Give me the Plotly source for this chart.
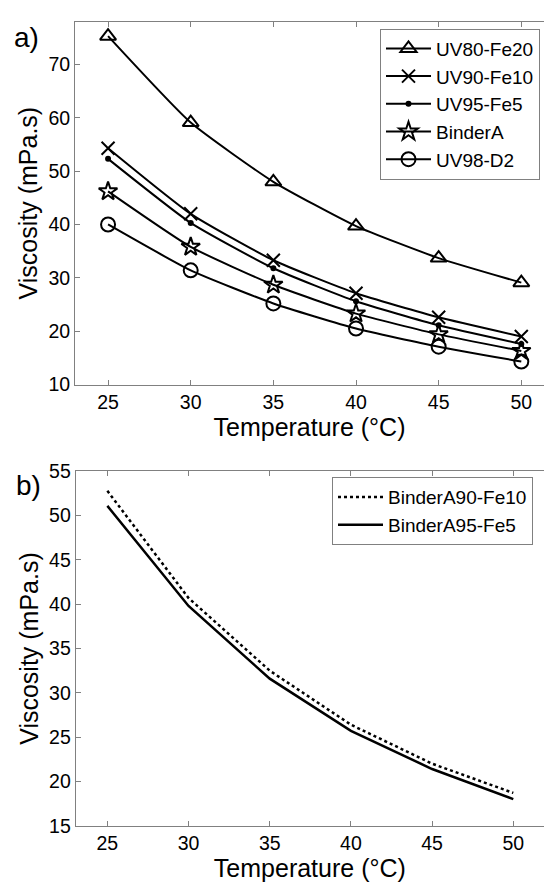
import plotly.graph_objects as go

# ---------------- data ----------------
temps = [25, 30, 35, 40, 45, 50]

uv80_fe20 = [75.3, 59.1, 48.0, 39.7, 33.7, 29.1]
uv90_fe10 = [54.3, 42.0, 33.3, 27.1, 22.6, 19.0]
uv95_fe5 = [52.3, 40.3, 31.8, 25.6, 21.1, 17.6]
binder_a = [46.2, 35.8, 28.7, 23.3, 19.4, 16.3]
uv98_d2 = [40.0, 31.4, 25.2, 20.5, 17.1, 14.3]

binderA90_fe10 = [52.8, 40.7, 32.5, 26.4, 22.0, 18.7]
binderA95_fe5 = [51.1, 39.8, 31.6, 25.7, 21.4, 18.0]

series_a_names = ["UV80-Fe20", "UV90-Fe10", "UV95-Fe5", "BinderA", "UV98-D2"]
series_b_names = ["BinderA90-Fe10", "BinderA95-Fe5"]

yticks_a = [10, 20, 30, 40, 50, 60, 70]
yticks_b = [15, 20, 25, 30, 35, 40, 45, 50, 55]
xticks = [25, 30, 35, 40, 45, 50]

# ---------------- styling ----------------
W, H = 544, 892
FONT = "Liberation Sans, Arial, Helvetica, sans-serif"
AXC = "#808080"


def px_x(p):
    return p / W


def px_y(p):
    return 1 - p / H


fig = go.Figure()

symbols = ["triangle-up-open", "x-thin-open", "circle", "star-open", "circle-open"]
sizes = [14, 13, 4, 14, 14]
vals_a = [uv80_fe20, uv90_fe10, uv95_fe5, binder_a, uv98_d2]

for name, vals, sym, sz in zip(series_a_names, vals_a, symbols, sizes):
    fig.add_trace(go.Scatter(
        x=temps, y=vals, name=name, mode="lines+markers",
        line=dict(color="black", width=2, shape="spline", smoothing=0.5),
        marker=dict(symbol=sym, size=sz, color="black",
                    line=dict(color="black", width=2)),
        xaxis="x", yaxis="y", legend="legend", cliponaxis=False,
    ))

dashes = ["dot", "solid"]
vals_b = [binderA90_fe10, binderA95_fe5]
for name, vals, dash in zip(series_b_names, vals_b, dashes):
    fig.add_trace(go.Scatter(
        x=temps, y=vals, name=name, mode="lines",
        line=dict(color="black", width=2.5, dash=dash),
        xaxis="x2", yaxis="y2", legend="legend2",
    ))

axis_common = dict(
    showline=True, linecolor=AXC, linewidth=1,
    ticks="inside", ticklen=5, tickcolor=AXC, tickwidth=1,
    showgrid=False, zeroline=False,
    tickfont=dict(family=FONT, size=19.5, color="black"),
)

# x: 25 at page 107.7, 50 at 521.3 (panel a); 25 at 107.3, 50 at 513.3 (panel b)
xa_right = 50 + (544 - 521.3) / 16.54
xb_right = 50 + (544 - 513.3) / 16.24

legend_common = dict(
    xanchor="left", yanchor="top",
    bordercolor=AXC, borderwidth=1, bgcolor="white",
    font=dict(family=FONT, size=19, color="black"),
    tracegroupgap=0, itemwidth=45,
)

fig.update_layout(
    width=W, height=H,
    margin=dict(l=0, r=0, t=0, b=0),
    paper_bgcolor="white", plot_bgcolor="white",
    font=dict(family=FONT, color="black"),
    xaxis=dict(domain=[px_x(75), 1], range=[23, xa_right], tickvals=xticks,
               anchor="y", mirror="ticks",
               title=dict(text="Temperature (°C)", font=dict(size=25), standoff=4),
               **axis_common),
    yaxis=dict(domain=[px_y(383), px_y(11)], range=[10, 78], tickvals=yticks_a,
               anchor="x", mirror=False,
               title=dict(text="Viscosity (mPa.s)", font=dict(size=25), standoff=3),
               **axis_common),
    xaxis2=dict(domain=[px_x(75.7), 1], range=[23.05, xb_right], tickvals=xticks,
                anchor="y2", mirror="ticks",
                title=dict(text="Temperature (°C)", font=dict(size=25), standoff=4),
                **axis_common),
    yaxis2=dict(domain=[px_y(835.3), px_y(472)], range=[15, 55], tickvals=yticks_b,
                anchor="x2", mirror=False,
                title=dict(text="Viscosity (mPa.s)", font=dict(size=25), standoff=3),
                **axis_common),
    legend=dict(x=px_x(380), y=px_y(18), **legend_common),
    legend2=dict(x=px_x(332), y=px_y(478), **legend_common),
    showlegend=True,
    annotations=[
        dict(text="a)", x=px_x(12), y=px_y(27), xref="paper", yref="paper",
             xanchor="left", yanchor="middle", showarrow=False,
             font=dict(family=FONT, size=28, color="black")),
        dict(text="b)", x=px_x(14), y=px_y(486), xref="paper", yref="paper",
             xanchor="left", yanchor="middle", showarrow=False,
             font=dict(family=FONT, size=28, color="black")),
    ],
)

fig.write_html("out.html", config={"displayModeBar": False},
               post_script="document.body.style.margin='0';")
